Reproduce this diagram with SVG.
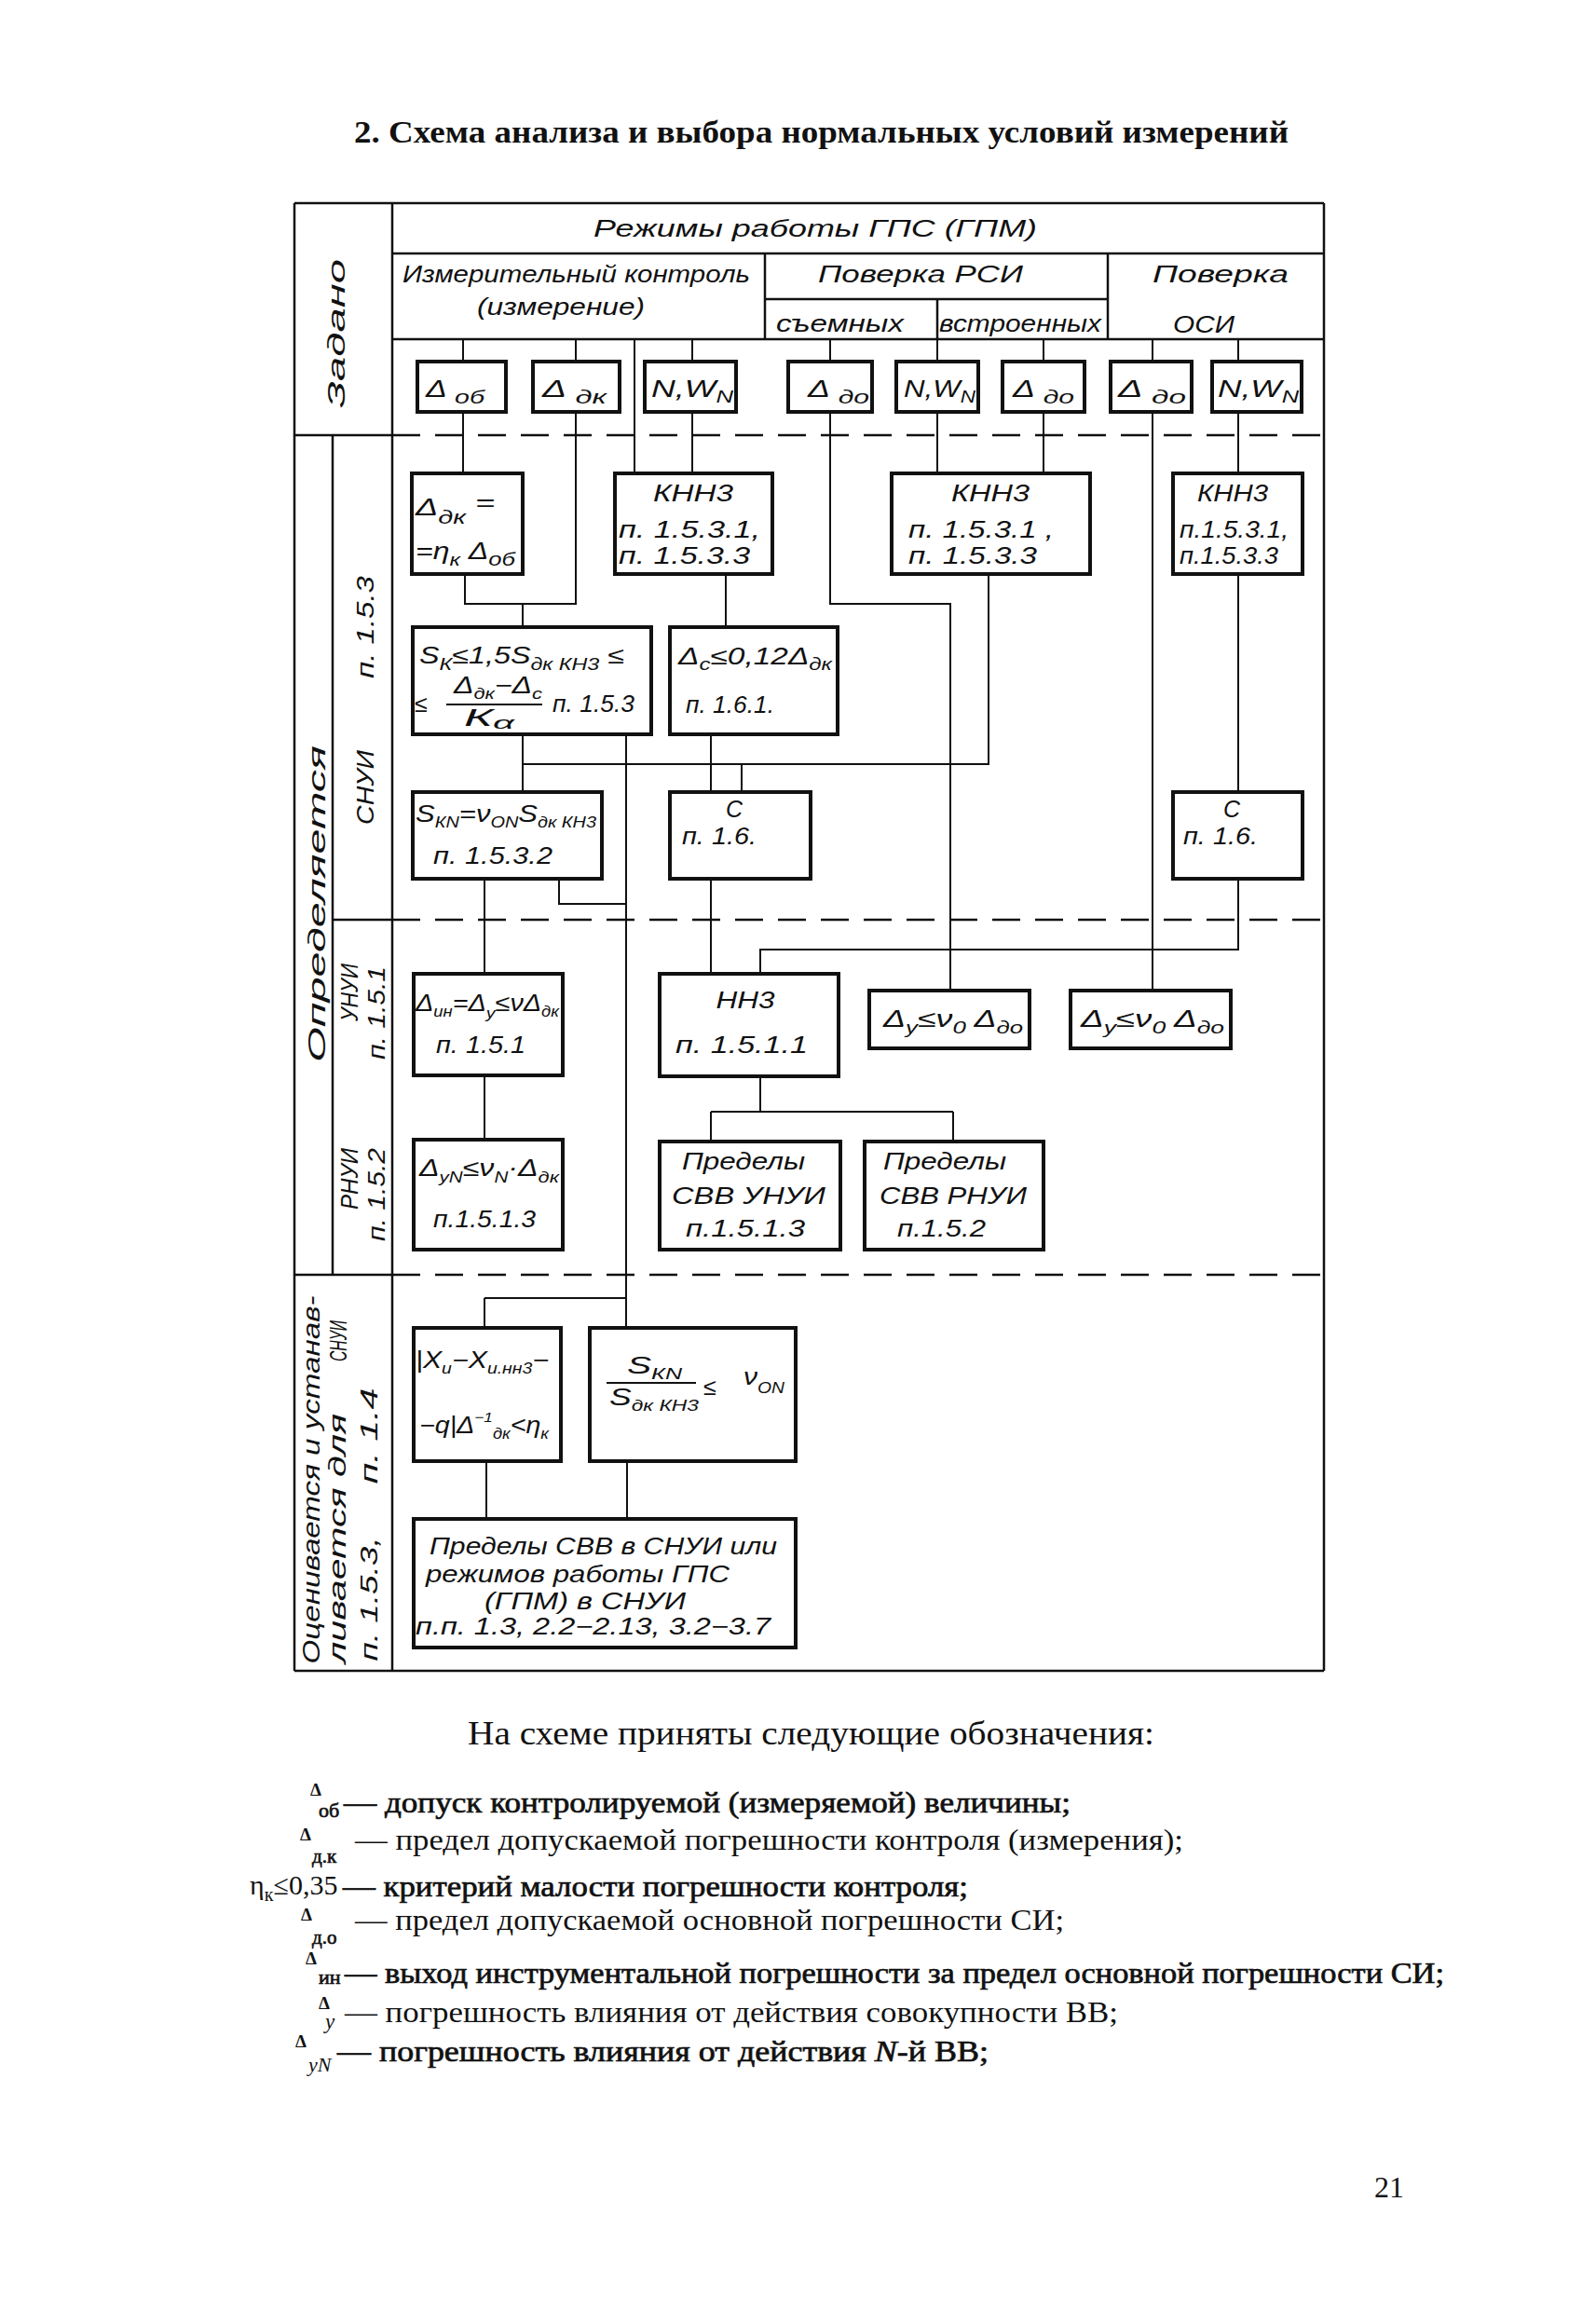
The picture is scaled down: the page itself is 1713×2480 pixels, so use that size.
<svg xmlns="http://www.w3.org/2000/svg" width="1713" height="2480" viewBox="0 0 1713 2480">
<style>
.bg{fill:#fff}
.fr{fill:none;stroke:#111;stroke-width:2.5}
.dash{fill:none;stroke:#111;stroke-width:2.5;stroke-dasharray:30 16}
.box{fill:none;stroke:#111;stroke-width:4}
.ln{fill:none;stroke:#111;stroke-width:2}
.g{font-family:"Liberation Sans","DejaVu Sans",sans-serif;font-style:italic;fill:#111;font-size:25px}
.sr{font-family:"Liberation Serif","DejaVu Serif",serif;fill:#111}
.sb{stroke:#111;stroke-width:0.7}
.sd{font-family:"Liberation Serif","DejaVu Serif",serif;fill:#111;font-weight:bold;font-size:19px}
</style>
<rect class="bg" x="0" y="0" width="1713" height="2480"/>

<text class="sr" x="380" y="153" font-size="33" font-weight="bold" textLength="1003" lengthAdjust="spacingAndGlyphs">2. Схема анализа и выбора нормальных условий измерений</text>

<g id="frame">
<path class="fr" d="M316 218H1421M316 218V1793M1421 218V1793M316 1793H1421M421 218V1793"/>
<path class="fr" d="M421 272H1421M421 364H1421M821 272V364M1189 272V364M821 321H1189M1006 321V364"/>
<path class="fr" d="M316 467H421M357 467V1368M357 987H421M316 1368H421"/>
<path class="dash" d="M421 467H1421M421 987H1421M421 1368H1421"/>
</g>

<g id="labels">
<text class="g" font-size="32" text-anchor="middle" textLength="160" lengthAdjust="spacingAndGlyphs" transform="translate(370,358) rotate(-90)">Задано</text>
<text class="g" font-size="28" text-anchor="middle" textLength="340" lengthAdjust="spacingAndGlyphs" transform="translate(349,970) rotate(-90)">Определяется</text>
<text class="g" font-size="26" text-anchor="middle" textLength="110" lengthAdjust="spacingAndGlyphs" transform="translate(401,673) rotate(-90)">п. 1.5.3</text>
<text class="g" font-size="26" text-anchor="middle" textLength="80" lengthAdjust="spacingAndGlyphs" transform="translate(401,845) rotate(-90)">СНУИ</text>
<text class="g" font-size="24" text-anchor="middle" textLength="62" lengthAdjust="spacingAndGlyphs" transform="translate(384,1065) rotate(-90)">УНУИ</text>
<text class="g" font-size="24" text-anchor="middle" textLength="100" lengthAdjust="spacingAndGlyphs" transform="translate(413,1087) rotate(-90)">п. 1.5.1</text>
<text class="g" font-size="24" text-anchor="middle" textLength="66" lengthAdjust="spacingAndGlyphs" transform="translate(384,1265) rotate(-90)">РНУИ</text>
<text class="g" font-size="24" text-anchor="middle" textLength="100" lengthAdjust="spacingAndGlyphs" transform="translate(413,1282) rotate(-90)">п. 1.5.2</text>
<text class="g" font-size="28" text-anchor="middle" textLength="395" lengthAdjust="spacingAndGlyphs" transform="translate(343,1588) rotate(-90)">Оценивается и устанав-</text>
<text class="g" font-size="26" text-anchor="middle" textLength="268" lengthAdjust="spacingAndGlyphs" transform="translate(371,1651) rotate(-90)">ливается для</text>
<text class="g" font-size="22" text-anchor="middle" textLength="44" lengthAdjust="spacingAndGlyphs" transform="translate(372,1439) rotate(-90)">СНУИ</text>
<text class="g" font-size="26" text-anchor="middle" textLength="133" lengthAdjust="spacingAndGlyphs" transform="translate(405,1716) rotate(-90)">п. 1.5.3,</text>
<text class="g" font-size="26" text-anchor="middle" textLength="103" lengthAdjust="spacingAndGlyphs" transform="translate(405,1541) rotate(-90)">п. 1.4</text>
</g>

<g id="header">
<text class="g" font-size="28" x="637" y="254" textLength="476" lengthAdjust="spacingAndGlyphs">Режимы  работы  ГПС (ГПМ)</text>
<text class="g" font-size="26" x="432" y="303" textLength="373" lengthAdjust="spacingAndGlyphs">Измерительный контроль</text>
<text class="g" font-size="26" x="512" y="338" textLength="180" lengthAdjust="spacingAndGlyphs">(измерение)</text>
<text class="g" font-size="26" x="878" y="303" textLength="220" lengthAdjust="spacingAndGlyphs">Поверка   РСИ</text>
<text class="g" font-size="24" x="833" y="356" textLength="137" lengthAdjust="spacingAndGlyphs">съемных</text>
<text class="g" font-size="24" x="1008" y="356" textLength="174" lengthAdjust="spacingAndGlyphs">встроенных</text>
<text class="g" font-size="26" x="1237" y="303" textLength="146" lengthAdjust="spacingAndGlyphs">Поверка</text>
<text class="g" font-size="26" x="1259" y="357" textLength="66" lengthAdjust="spacingAndGlyphs">ОСИ</text>
</g>

<g id="connectors">
<path class="ln" d="M497 364V388M497 442V508M618 364V388M618 442V648H499V616M561 648V673M681 364V508M743 364V388M743 442V508"/>
<path class="ln" d="M891 364V388M891 442V648H1020V1063M1006 364V388M1006 442V508M1120 364V388M1120 442V508M1237 364V388M1237 442V1063M1329 364V388M1329 442V508M1329 616V850M1329 943V1019H816V1045"/>
<path class="ln" d="M779 616V673M1061 616V820H561M561 788V850M672 788V1425M600 943V970H672M763 788V850M796 820V850"/>
<path class="ln" d="M520 943V1045M763 943V1045M520 1154V1223M816 1155V1193M763 1193H1023M763 1193V1225M1023 1193V1225M520 1393H672M520 1393V1425M522 1568V1630M673 1568V1630"/>
</g>

<g id="n-dob"><rect class="box" x="448" y="388" width="95" height="54"/>
<text class="g" font-size="28" x="457" y="426" textLength="63" lengthAdjust="spacingAndGlyphs">Δ <tspan font-size="21" dy="7">об</tspan></text></g>
<g id="n-ddk"><rect class="box" x="572" y="388" width="93" height="54"/>
<text class="g" font-size="28" x="582" y="426" textLength="69" lengthAdjust="spacingAndGlyphs">Δ <tspan font-size="21" dy="7">дк</tspan></text></g>
<g id="n-nw1"><rect class="box" x="692" y="388" width="98" height="54"/>
<text class="g" font-size="27" x="699" y="426" textLength="88" lengthAdjust="spacingAndGlyphs">N,W<tspan font-size="18" dy="6">N</tspan></text></g>
<g id="n-ddo1"><rect class="box" x="846" y="388" width="90" height="54"/>
<text class="g" font-size="28" x="867" y="426" textLength="66" lengthAdjust="spacingAndGlyphs">Δ <tspan font-size="21" dy="7">до</tspan></text></g>
<g id="n-nw2"><rect class="box" x="962" y="388" width="88" height="54"/>
<text class="g" font-size="27" x="970" y="426" textLength="77" lengthAdjust="spacingAndGlyphs">N,W<tspan font-size="18" dy="6">N</tspan></text></g>
<g id="n-ddo2"><rect class="box" x="1076" y="388" width="88" height="54"/>
<text class="g" font-size="28" x="1087" y="426" textLength="66" lengthAdjust="spacingAndGlyphs">Δ  <tspan font-size="21" dy="7">до</tspan></text></g>
<g id="n-ddo3"><rect class="box" x="1192" y="388" width="87" height="54"/>
<text class="g" font-size="28" x="1200" y="426" textLength="73" lengthAdjust="spacingAndGlyphs">Δ <tspan font-size="21" dy="7">до</tspan></text></g>
<g id="n-nw3"><rect class="box" x="1301" y="388" width="96" height="54"/>
<text class="g" font-size="27" x="1307" y="426" textLength="87" lengthAdjust="spacingAndGlyphs">N,W<tspan font-size="18" dy="6">N</tspan></text></g>

<g id="n-A"><rect class="box" x="442" y="508" width="119" height="108"/>
<text class="g" font-size="28" x="446" y="553" textLength="85" lengthAdjust="spacingAndGlyphs">Δ<tspan font-size="20" dy="9">дк</tspan><tspan dy="-14"> =</tspan></text>
<text class="g" font-size="28" x="446" y="600" textLength="107" lengthAdjust="spacingAndGlyphs">=η<tspan font-size="19" dy="7">к</tspan><tspan dy="-7"> Δ</tspan><tspan font-size="20" dy="7">об</tspan></text></g>

<g id="n-B"><rect class="box" x="660" y="508" width="169" height="108"/>
<text class="g" font-size="24" x="744" y="538" text-anchor="middle" textLength="86" lengthAdjust="spacingAndGlyphs">КНН3</text>
<text class="g" font-size="24" x="664" y="577" textLength="152" lengthAdjust="spacingAndGlyphs">п. 1.5.3.1,</text>
<text class="g" font-size="24" x="664" y="605" textLength="141" lengthAdjust="spacingAndGlyphs">п. 1.5.3.3</text></g>
<g id="n-C"><rect class="box" x="957" y="508" width="213" height="108"/>
<text class="g" font-size="24" x="1063" y="538" text-anchor="middle" textLength="84" lengthAdjust="spacingAndGlyphs">КНН3</text>
<text class="g" font-size="24" x="975" y="577" textLength="156" lengthAdjust="spacingAndGlyphs">п. 1.5.3.1 ,</text>
<text class="g" font-size="24" x="975" y="605" textLength="138" lengthAdjust="spacingAndGlyphs">п. 1.5.3.3</text></g>
<g id="n-D"><rect class="box" x="1259" y="508" width="139" height="108"/>
<text class="g" font-size="24" x="1323" y="538" text-anchor="middle" textLength="76" lengthAdjust="spacingAndGlyphs">КНН3</text>
<text class="g" font-size="24" x="1266" y="577" textLength="117" lengthAdjust="spacingAndGlyphs">п.1.5.3.1,</text>
<text class="g" font-size="24" x="1266" y="605" textLength="106" lengthAdjust="spacingAndGlyphs">п.1.5.3.3</text></g>

<g id="n-E"><rect class="box" x="443" y="673" width="256" height="115"/>
<text class="g" font-size="27" x="450" y="712" textLength="220" lengthAdjust="spacingAndGlyphs">S<tspan font-size="18" dy="7">К</tspan><tspan dy="-7">≤1,5S</tspan><tspan font-size="18" dy="7">дк КН3</tspan><tspan dy="-7"> ≤</tspan></text>
<text class="g" font-size="34" x="445" y="764">≤</text>
<text class="g" font-size="24" x="487" y="744" textLength="95" lengthAdjust="spacingAndGlyphs">Δ<tspan font-size="17" dy="6">дк</tspan><tspan dy="-6">−Δ</tspan><tspan font-size="17" dy="6">с</tspan></text>
<path class="ln" d="M479 756H582"/>
<text class="g" font-size="24" x="498" y="779" textLength="54" lengthAdjust="spacingAndGlyphs">К<tspan font-size="19" dy="3">α</tspan></text>
<text class="g" font-size="24" x="593" y="764" textLength="88" lengthAdjust="spacingAndGlyphs">п. 1.5.3</text></g>

<g id="n-F"><rect class="box" x="719" y="673" width="180" height="115"/>
<text class="g" font-size="27" x="728" y="713" textLength="165" lengthAdjust="spacingAndGlyphs">Δ<tspan font-size="18" dy="6">с</tspan><tspan dy="-6">≤0,12Δ</tspan><tspan font-size="18" dy="6">дк</tspan></text>
<text class="g" font-size="24" x="736" y="765" textLength="95" lengthAdjust="spacingAndGlyphs">п. 1.6.1.</text></g>

<g id="n-G"><rect class="box" x="443" y="850" width="203" height="93"/>
<text class="g" font-size="25" x="446" y="882" textLength="194" lengthAdjust="spacingAndGlyphs">S<tspan font-size="16" dy="6">КN</tspan><tspan dy="-6">=ν</tspan><tspan font-size="16" dy="6">ОN</tspan><tspan dy="-6">S</tspan><tspan font-size="16" dy="6">дк КН3</tspan></text>
<text class="g" font-size="24" x="465" y="927" textLength="128" lengthAdjust="spacingAndGlyphs">п. 1.5.3.2</text></g>

<g id="n-H"><rect class="box" x="719" y="850" width="151" height="93"/>
<text class="g" font-size="30" x="788" y="877" text-anchor="middle">С</text>
<text class="g" font-size="24" x="732" y="906" textLength="80" lengthAdjust="spacingAndGlyphs">п. 1.6.</text></g>
<g id="n-I"><rect class="box" x="1259" y="850" width="139" height="93"/>
<text class="g" font-size="30" x="1322" y="877" text-anchor="middle">С</text>
<text class="g" font-size="24" x="1270" y="906" textLength="80" lengthAdjust="spacingAndGlyphs">п. 1.6.</text></g>

<g id="n-din"><rect class="box" x="444" y="1045" width="160" height="109"/>
<text class="g" font-size="25" x="446" y="1085" textLength="154" lengthAdjust="spacingAndGlyphs">Δ<tspan font-size="16" dy="6">ин</tspan><tspan dy="-6">=Δ</tspan><tspan font-size="17" dy="8">у</tspan><tspan dy="-8">≤νΔ</tspan><tspan font-size="16" dy="6">дк</tspan></text>
<text class="g" font-size="24" x="468" y="1130" textLength="96" lengthAdjust="spacingAndGlyphs">п. 1.5.1</text></g>
<g id="n-nn3"><rect class="box" x="708" y="1045" width="192" height="110"/>
<text class="g" font-size="24" x="800" y="1082" text-anchor="middle" textLength="63" lengthAdjust="spacingAndGlyphs">НН3</text>
<text class="g" font-size="24" x="725" y="1130" textLength="142" lengthAdjust="spacingAndGlyphs">п. 1.5.1.1</text></g>
<g id="n-dy1"><rect class="box" x="933" y="1063" width="172" height="62"/>
<text class="g" font-size="28" x="948" y="1102" textLength="150" lengthAdjust="spacingAndGlyphs">Δ<tspan font-size="18" dy="7">у</tspan><tspan dy="-7">≤ν</tspan><tspan font-size="18" dy="7">0</tspan><tspan dy="-7"> Δ</tspan><tspan font-size="18" dy="7">до</tspan></text></g>
<g id="n-dy2"><rect class="box" x="1149" y="1063" width="172" height="62"/>
<text class="g" font-size="28" x="1160" y="1102" textLength="154" lengthAdjust="spacingAndGlyphs">Δ<tspan font-size="18" dy="7">у</tspan><tspan dy="-7">≤ν</tspan><tspan font-size="18" dy="7">0</tspan><tspan dy="-7"> Δ</tspan><tspan font-size="18" dy="7">до</tspan></text></g>

<g id="n-dyn"><rect class="box" x="444" y="1223" width="160" height="118"/>
<text class="g" font-size="26" x="450" y="1262" textLength="150" lengthAdjust="spacingAndGlyphs">Δ<tspan font-size="16" dy="7">уN</tspan><tspan dy="-7">≤ν</tspan><tspan font-size="16" dy="7">N</tspan><tspan dy="-7">·Δ</tspan><tspan font-size="17" dy="7">дк</tspan></text>
<text class="g" font-size="24" x="465" y="1317" textLength="110" lengthAdjust="spacingAndGlyphs">п.1.5.1.3</text></g>
<g id="n-pu"><rect class="box" x="708" y="1225" width="194" height="116"/>
<text class="g" font-size="25" x="732" y="1255" textLength="132" lengthAdjust="spacingAndGlyphs">Пределы</text>
<text class="g" font-size="25" x="721" y="1292" textLength="165" lengthAdjust="spacingAndGlyphs">СВВ  УНУИ</text>
<text class="g" font-size="24" x="736" y="1327" textLength="128" lengthAdjust="spacingAndGlyphs">п.1.5.1.3</text></g>
<g id="n-pr"><rect class="box" x="928" y="1225" width="192" height="116"/>
<text class="g" font-size="25" x="948" y="1255" textLength="132" lengthAdjust="spacingAndGlyphs">Пределы</text>
<text class="g" font-size="25" x="944" y="1292" textLength="158" lengthAdjust="spacingAndGlyphs">СВВ  РНУИ</text>
<text class="g" font-size="24" x="963" y="1327" textLength="95" lengthAdjust="spacingAndGlyphs">п.1.5.2</text></g>

<g id="n-X"><rect class="box" x="444" y="1425" width="158" height="143"/>
<text class="g" font-size="25" x="446" y="1468" textLength="143" lengthAdjust="spacingAndGlyphs">|X<tspan font-size="16" dy="6">и</tspan><tspan dy="-6">−X</tspan><tspan font-size="16" dy="6">и.нн3</tspan><tspan dy="-6">−</tspan></text>
<text class="g" font-size="25" x="450" y="1538" textLength="139" lengthAdjust="spacingAndGlyphs">−q|Δ<tspan font-size="15" dy="-12">−1</tspan><tspan font-size="16" dy="18">дк</tspan><tspan dy="-6">&lt;η</tspan><tspan font-size="16" dy="6">к</tspan></text></g>
<g id="n-SS"><rect class="box" x="633" y="1425" width="221" height="143"/>
<text class="g" font-size="25" x="673" y="1474" textLength="59" lengthAdjust="spacingAndGlyphs">S<tspan font-size="16" dy="6">КN</tspan></text>
<path class="ln" d="M651 1484H747"/>
<text class="g" font-size="25" x="654" y="1508" textLength="96" lengthAdjust="spacingAndGlyphs">S<tspan font-size="16" dy="6">дк КН3</tspan></text>
<text class="g" font-size="34" x="755" y="1497">≤</text>
<text class="g" font-size="28" x="798" y="1486" textLength="44" lengthAdjust="spacingAndGlyphs">ν<tspan font-size="16" dy="9">ОN</tspan></text></g>

<g id="n-final"><rect class="box" x="444" y="1630" width="410" height="138"/>
<text class="g" font-size="26" x="461" y="1668" textLength="373" lengthAdjust="spacingAndGlyphs">Пределы СВВ в СНУИ или</text>
<text class="g" font-size="26" x="457" y="1698" textLength="326" lengthAdjust="spacingAndGlyphs">режимов работы ГПС</text>
<text class="g" font-size="26" x="520" y="1727" textLength="216" lengthAdjust="spacingAndGlyphs">(ГПМ) в СНУИ</text>
<text class="g" font-size="26" x="446" y="1754" textLength="381" lengthAdjust="spacingAndGlyphs">п.п. 1.3, 2.2−2.13, 3.2−3.7</text></g>

<g id="legend">
<text class="sr" font-size="36" x="502" y="1872" textLength="737" lengthAdjust="spacingAndGlyphs">На схеме приняты следующие обозначения:</text>
<text class="sd" x="333" y="1927">Δ</text><text class="sr sb" font-size="22" x="342" y="1950">об</text>
<text class="sr sb" font-size="31" x="369" y="1945" textLength="780" lengthAdjust="spacingAndGlyphs">— допуск контролируемой (измеряемой) величины;</text>
<text class="sd" x="322" y="1975">Δ</text><text class="sr sb" font-size="21" x="335" y="1999">д.к</text>
<text class="sr" font-size="31" x="381" y="1985" textLength="889" lengthAdjust="spacingAndGlyphs">— предел допускаемой погрешности контроля (измерения);</text>
<text class="sr" font-size="30" x="268" y="2033">η<tspan font-size="20" dy="7">к</tspan><tspan dy="-7">≤0,35</tspan></text>
<text class="sr sb" font-size="31" x="368" y="2035" textLength="671" lengthAdjust="spacingAndGlyphs">— критерий малости погрешности контроля;</text>
<text class="sd" x="323" y="2061">Δ</text><text class="sr sb" font-size="21" x="335" y="2086">д.о</text>
<text class="sr" font-size="31" x="381" y="2071" textLength="761" lengthAdjust="spacingAndGlyphs">— предел допускаемой основной погрешности СИ;</text>
<text class="sd" x="328" y="2108">Δ</text><text class="sr sb" font-size="22" x="342" y="2129">ин</text>
<text class="sr sb" font-size="31" x="370" y="2128" textLength="1180" lengthAdjust="spacingAndGlyphs">— выход инструментальной погрешности за предел основной погрешности СИ;</text>
<text class="sd" x="342" y="2156">Δ</text><text class="sr" font-size="23" font-style="italic" x="349" y="2177">у</text>
<text class="sr" font-size="31" x="370" y="2170" textLength="830" lengthAdjust="spacingAndGlyphs">— погрешность влияния от действия совокупности ВВ;</text>
<text class="sd" x="317" y="2197">Δ</text><text class="sr" font-size="22" font-style="italic" x="331" y="2223">уN</text>
<text class="sr sb" font-size="31" x="362" y="2212" textLength="699" lengthAdjust="spacingAndGlyphs">— погрешность влияния от действия <tspan font-style="italic">N</tspan>-й ВВ;</text>
</g>

<text class="sr" font-size="32" x="1475" y="2358">21</text>
</svg>
